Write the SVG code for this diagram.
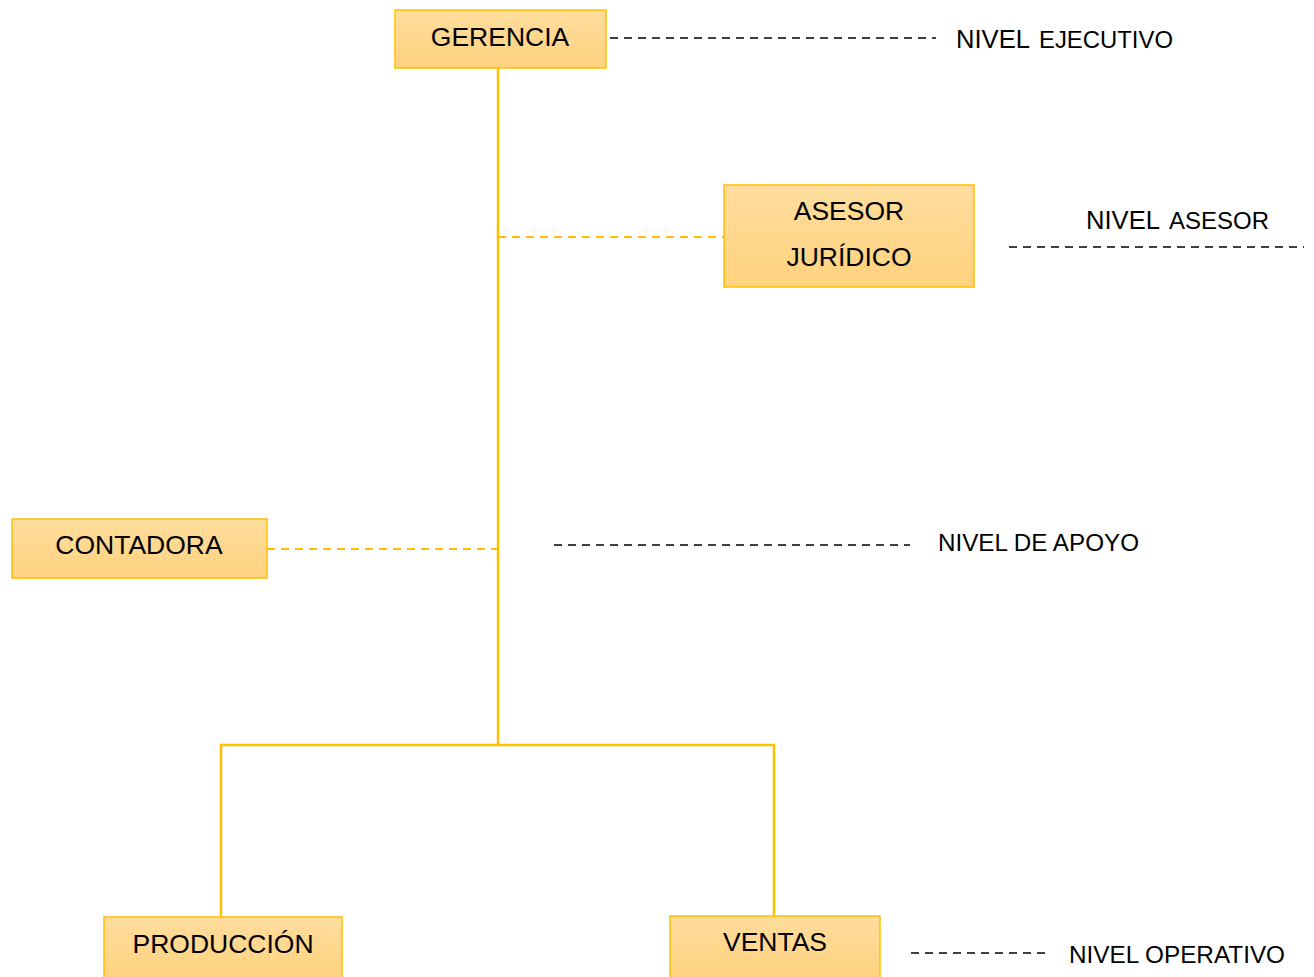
<svg xmlns="http://www.w3.org/2000/svg" width="1314" height="977" viewBox="0 0 1314 977">
  <defs>
    <linearGradient id="boxFill" x1="0" y1="0" x2="0" y2="1">
      <stop offset="0" stop-color="#FFDD9E"/>
      <stop offset="1" stop-color="#FFD27E"/>
    </linearGradient>
    <style>
      .box { fill: url(#boxFill); stroke: #FFC000; stroke-width: 1.5; }
      .label { font-family: "Liberation Sans", Arial, sans-serif; font-size: 26.5px; fill: #000; text-anchor: middle; }
      .lvl { font-family: "Liberation Sans", Arial, sans-serif; fill: #000; }
      .solid { fill: none; stroke: #FFC000; stroke-width: 2.5; }
      .ydash { fill: none; stroke: #FFC000; stroke-width: 2; stroke-dasharray: 8 6; }
      .kdash { fill: none; stroke: #000; stroke-width: 1.5; stroke-dasharray: 8 6; }
    </style>
  </defs>

  <!-- connectors -->
  <g id="connectors">
    <path class="solid" d="M498 68 V745"/>
    <path class="solid" d="M221 917 L221 745 H774 V916"/>
    <path class="ydash" d="M498 237 H724"/>
    <path class="ydash" d="M267 549 H498"/>
  </g>

  <!-- level guides -->
  <g id="levels">
    <path class="kdash" d="M610 38 H936"/>
    <path class="kdash" d="M1009 247 H1304"/>
    <path class="kdash" d="M554 545 H910"/>
    <path class="kdash" d="M911 953 H1046"/>
    <text class="lvl" x="956" y="48"><tspan font-size="25.5" textLength="74" lengthAdjust="spacingAndGlyphs">NIVEL</tspan> <tspan font-size="23.5" x="1039" textLength="134" lengthAdjust="spacingAndGlyphs">EJECUTIVO</tspan></text>
    <text class="lvl" x="1086" y="229"><tspan font-size="25.5" textLength="74" lengthAdjust="spacingAndGlyphs">NIVEL</tspan> <tspan font-size="23.5" x="1169" textLength="100" lengthAdjust="spacingAndGlyphs">ASESOR</tspan></text>
    <text class="lvl" x="938" y="551" font-size="23" textLength="201" lengthAdjust="spacingAndGlyphs">NIVEL DE APOYO</text>
    <text class="lvl" x="1069" y="963" font-size="23" textLength="216" lengthAdjust="spacingAndGlyphs">NIVEL OPERATIVO</text>
  </g>

  <!-- nodes -->
  <g id="gerencia">
    <rect class="box" x="395" y="10" width="211" height="58"/>
    <text class="label" x="500" y="46">GERENCIA</text>
  </g>
  <g id="asesor">
    <rect class="box" x="724" y="185" width="250" height="102"/>
    <text class="label" x="849" y="220">ASESOR</text>
    <text class="label" x="849" y="266">JURÍDICO</text>
  </g>
  <g id="contadora">
    <rect class="box" x="12" y="519" width="255" height="59"/>
    <text class="label" x="139" y="554">CONTADORA</text>
  </g>
  <g id="produccion">
    <rect class="box" x="104" y="917" width="238" height="62"/>
    <text class="label" x="223" y="953">PRODUCCIÓN</text>
  </g>
  <g id="ventas">
    <rect class="box" x="670" y="916" width="210" height="63"/>
    <text class="label" x="775" y="951">VENTAS</text>
  </g>
</svg>
